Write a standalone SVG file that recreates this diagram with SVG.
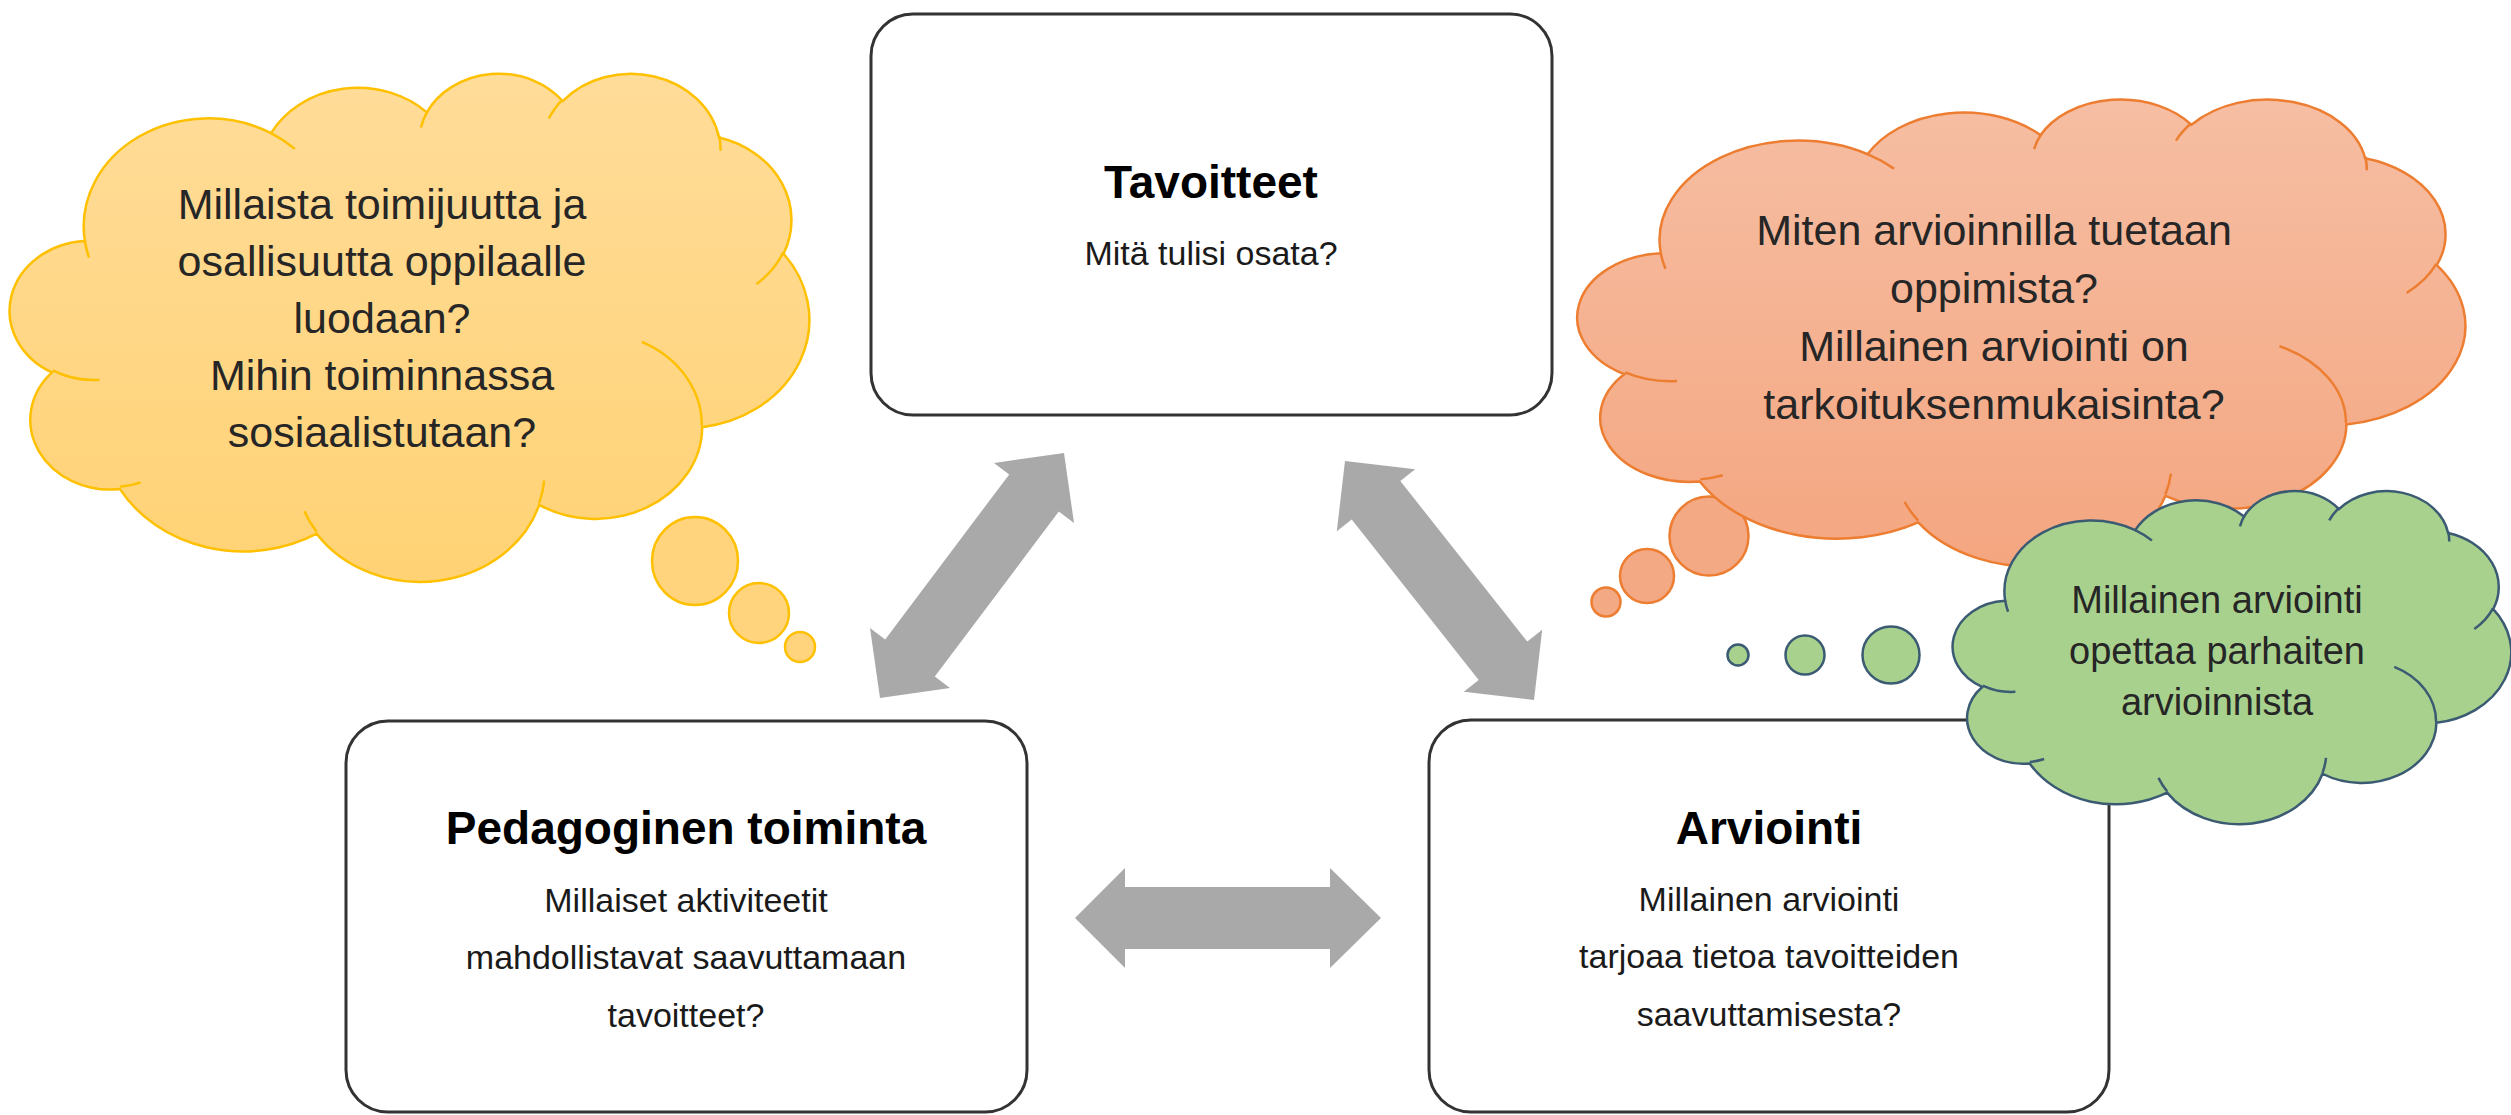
<svg xmlns="http://www.w3.org/2000/svg" xmlns:xlink="http://www.w3.org/1999/xlink" width="2511" height="1115" viewBox="0 0 2511 1115">
<style>
.box{fill:#fff;stroke:#333;stroke-width:3}
.arrow{fill:#a9a9a9}
.title{font-family:"Liberation Sans",Arial,sans-serif;font-weight:bold;font-size:46px;fill:#000;text-anchor:middle}
.sub{font-family:"Liberation Sans",Arial,sans-serif;font-size:34px;fill:#1a1a1a;text-anchor:middle}
.ct{font-family:"Liberation Sans",Arial,sans-serif;font-size:43px;fill:#262626;text-anchor:middle}
.gt{font-family:"Liberation Sans",Arial,sans-serif;font-size:38px;fill:#262626;text-anchor:middle}
.cl{vector-effect:non-scaling-stroke;stroke-width:2.5}
.yel{fill:url(#gy);stroke:#FFC000}
.org{fill:url(#go);stroke:#ED7D31}
.grn{fill:#A9D18E;stroke:#3B5B73}
.yb{fill:#FFD47C;stroke:#FFC000;stroke-width:2.5}
.ob{fill:#F4A985;stroke:#ED7D31;stroke-width:2.5}
.gb{fill:#A9D18E;stroke:#3B5B73;stroke-width:2.5}
</style>
<defs>
<linearGradient id="gy" x1="0" y1="0" x2="0" y2="1"><stop offset="0" stop-color="#FFDC99"/><stop offset="1" stop-color="#FFD274"/></linearGradient>
<linearGradient id="go" x1="0" y1="0" x2="0" y2="1"><stop offset="0" stop-color="#F6BEA3"/><stop offset="1" stop-color="#F4A680"/></linearGradient>
<path id="cloud" class="cl" d="M3900 14370 A6753 9190 0 0 1 14005 5202 A5333 7267 0 0 1 22456 3433 A4365 5945 0 0 1 29833 2481 A4857 6595 0 0 1 38318 5576 A5333 7273 0 0 1 41819 15460 A6775 9220 0 0 1 37404 30202 A5785 7867 0 0 1 28555 36812 A6752 9215 0 0 1 16480 39264 A7720 10543 0 0 1 5805 35470 A4360 5918 0 0 1 2113 25549 A4345 5945 0 0 1 3900 14370 Z"/>
<path id="hooks" class="cl" fill="none" d="M4693 26177 A4345 5945 0 0 1 2160 25380 M6928 34899 A4360 5918 0 0 1 5820 35280 M16478 39090 A6752 9215 0 0 1 15810 37349 M28827 34751 A6752 9215 0 0 1 28560 36661 M34129 22954 A5785 7867 0 0 1 37381 30090 M41798 15354 A5333 7273 0 0 1 40350 18030 M38324 5426 A4857 6595 0 0 1 38401 6690 M29078 3952 A4857 6595 0 0 1 29820 2340 M22141 4720 A4365 5945 0 0 1 22500 3331 M14000 5192 A6753 9190 0 0 1 15300 6540 M4127 15789 A6753 9190 0 0 1 3900 14371"/>
</defs>
<rect width="2511" height="1115" fill="#fff"/>
<g id="connectors">
<polygon class="arrow" points="1064,453 1074,523 1058.8,511.6 934.8,676.6 950,688 880,698 870,628 885.2,639.4 1009.2,474.4 994,463"/>
<polygon class="arrow" points="1345,461 1415.2,469.2 1400.3,481 1527.3,641.6 1542.2,629.8 1534,700 1463.8,691.8 1478.7,680 1351.7,519.4 1336.8,531.2"/>
<polygon class="arrow" points="1075,918 1125,868 1125,887 1330,887 1330,868 1381,918 1330,968 1330,949 1125,949 1125,968"/>
</g>
<g id="node-tavoitteet">
<rect class="box" x="871" y="14" width="681" height="401" rx="42"/>
<text class="title" x="1211" y="198">Tavoitteet</text>
<text class="sub" x="1211" y="265">Mitä tulisi osata?</text>
</g>
<g id="node-pedagoginen">
<rect class="box" x="346" y="721" width="681" height="391" rx="42"/>
<text class="title" x="686" y="844">Pedagoginen toiminta</text>
<text class="sub" x="686" y="912">Millaiset aktiviteetit</text>
<text class="sub" x="686" y="969">mahdollistavat saavuttamaan</text>
<text class="sub" x="686" y="1027">tavoitteet?</text>
</g>
<g id="node-arviointi">
<rect class="box" x="1429" y="720" width="680" height="392" rx="42"/>
<text class="title" x="1769" y="844">Arviointi</text>
<text class="sub" x="1769" y="911">Millainen arviointi</text>
<text class="sub" x="1769" y="968">tarjoaa tietoa tavoitteiden</text>
<text class="sub" x="1769" y="1026">saavuttamisesta?</text>
</g>
<g id="cloud-yellow">
<ellipse class="yb" cx="695" cy="561" rx="43" ry="44"/>
<circle class="yb" cx="759" cy="613" r="30"/>
<circle class="yb" cx="800" cy="647" r="15"/>
<g class="yel" transform="translate(13,72) scale(0.018426,0.011759)"><use xlink:href="#cloud"/><use xlink:href="#hooks"/></g>
<text class="ct" x="382" y="219">Millaista toimijuutta ja</text>
<text class="ct" x="382" y="276">osallisuutta oppilaalle</text>
<text class="ct" x="382" y="333">luodaan?</text>
<text class="ct" x="382" y="390">Mihin toiminnassa</text>
<text class="ct" x="382" y="447">sosiaalistutaan?</text>
</g>
<g id="cloud-orange">
<circle class="ob" cx="1709" cy="536" r="39.5"/>
<circle class="ob" cx="1647" cy="576" r="27"/>
<circle class="ob" cx="1606" cy="602" r="14.5"/>
<g class="org" transform="translate(1581,98) scale(0.020463,0.010810)"><use xlink:href="#cloud"/><use xlink:href="#hooks"/></g>
<text class="ct" x="1994" y="245">Miten arvioinnilla tuetaan</text>
<text class="ct" x="1994" y="303">oppimista?</text>
<text class="ct" x="1994" y="361">Millainen arviointi on</text>
<text class="ct" x="1994" y="419">tarkoituksenmukaisinta?</text>
</g>
<g id="cloud-green">
<circle class="gb" cx="1738" cy="655" r="10.5"/>
<circle class="gb" cx="1805" cy="655" r="19.5"/>
<circle class="gb" cx="1891" cy="655" r="28.5"/>
<g class="grn" transform="translate(1955,490) scale(0.012870,0.0077083)"><use xlink:href="#cloud"/><use xlink:href="#hooks"/></g>
<text class="gt" x="2217" y="613">Millainen arviointi</text>
<text class="gt" x="2217" y="664">opettaa parhaiten</text>
<text class="gt" x="2217" y="715">arvioinnista</text>
</g>
</svg>
